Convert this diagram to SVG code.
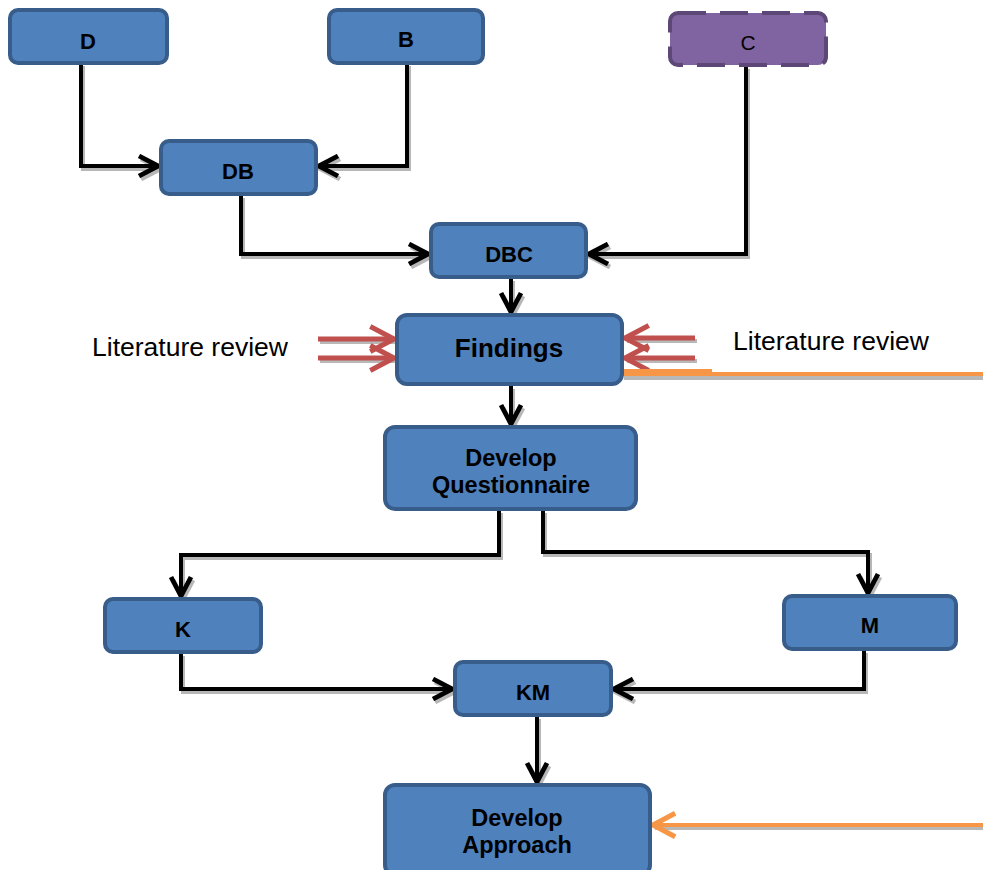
<svg xmlns="http://www.w3.org/2000/svg" width="983" height="870" viewBox="0 0 983 870">
  <style>
    .box { fill: #4f81bd; stroke: #385d8a; stroke-width: 4; }
    .boxC { fill: #8064a2; stroke: #5c4776; stroke-width: 4; stroke-dasharray: 28 14; }
    .lbl { font-family: "Liberation Sans", Arial, sans-serif; font-weight: bold; font-size: 22px; fill: #000; text-anchor: middle; }
    .lbl2 { font-family: "Liberation Sans", Arial, sans-serif; font-weight: bold; font-size: 23.5px; fill: #000; text-anchor: middle; }
    .big { font-family: "Liberation Sans", Arial, sans-serif; font-weight: bold; font-size: 26px; fill: #000; text-anchor: middle; }
    .note { font-family: "Liberation Sans", Arial, sans-serif; font-size: 26.5px; fill: #000; }
    .wire { fill: none; stroke: #000; stroke-width: 4; }
    .shade { fill: none; stroke: #a6a6a6; stroke-width: 4; opacity: 0.8; }
    .lit { fill: none; stroke: #c0504d; stroke-width: 5; }
    .org { fill: none; stroke: #f79646; stroke-width: 4; }
  </style>
  <defs>
    <marker id="head" viewBox="0 0 12 12" refX="10.5" refY="6" markerWidth="6" markerHeight="6" markerUnits="strokeWidth" orient="auto">
      <path d="M1,1 L10.5,6 L1,11" fill="none" stroke="#000" stroke-width="2.4"/>
    </marker>
    <marker id="headS" viewBox="0 0 12 12" refX="10.5" refY="6" markerWidth="6" markerHeight="6" markerUnits="strokeWidth" orient="auto">
      <path d="M1,1 L10.5,6 L1,11" fill="none" stroke="#a6a6a6" stroke-width="2.4"/>
    </marker>
    <marker id="redHead" viewBox="0 0 12 12" refX="10.5" refY="6" markerWidth="6" markerHeight="6" markerUnits="strokeWidth" orient="auto">
      <path d="M1,1 L10.5,6 L1,11" fill="none" stroke="#c0504d" stroke-width="2"/>
    </marker>
    <marker id="orgHead" viewBox="0 0 12 12" refX="10.5" refY="6" markerWidth="7" markerHeight="7" markerUnits="strokeWidth" orient="auto">
      <path d="M1,1 L10.5,6 L1,11" fill="none" stroke="#f79646" stroke-width="2.2"/>
    </marker>
  </defs>

  <!-- connectors -->
  <g id="connectors">
    <g transform="translate(2,3)">
      <path class="shade" d="M81,63 V166 H158" marker-end="url(#headS)"/>
      <path class="shade" d="M407,63 V166 H319" marker-end="url(#headS)"/>
      <path class="shade" d="M241,195 V254 H428" marker-end="url(#headS)"/>
      <path class="shade" d="M746,66 V254 H589" marker-end="url(#headS)"/>
      <path class="shade" d="M511,278 V312" marker-end="url(#headS)"/>
      <path class="shade" d="M511,386 V424" marker-end="url(#headS)"/>
      <path class="shade" d="M499,510 V555 H181 V596" marker-end="url(#headS)"/>
      <path class="shade" d="M543,510 V552 H868 V593" marker-end="url(#headS)"/>
      <path class="shade" d="M181,653 V689 H452" marker-end="url(#headS)"/>
      <path class="shade" d="M864,650 V689 H614" marker-end="url(#headS)"/>
      <path class="shade" d="M537,716 V782" marker-end="url(#headS)"/>
      <path class="shade" d="M318,339 H394 M318,358 H394 M695,338 H625 M695,358 H625"/>
      <path class="shade" d="M622,373 H712 M622,375 H983 M983,825 H653"/>
    </g>
    <path class="wire" d="M81,63 V166 H158" marker-end="url(#head)"/>
    <path class="wire" d="M407,63 V166 H319" marker-end="url(#head)"/>
    <path class="wire" d="M241,195 V254 H428" marker-end="url(#head)"/>
    <path class="wire" d="M746,66 V254 H589" marker-end="url(#head)"/>
    <path class="wire" d="M511,278 V312" marker-end="url(#head)"/>
    <path class="wire" d="M511,386 V424" marker-end="url(#head)"/>
    <path class="wire" d="M499,510 V555 H181 V596" marker-end="url(#head)"/>
    <path class="wire" d="M543,510 V552 H868 V593" marker-end="url(#head)"/>
    <path class="wire" d="M181,653 V689 H452" marker-end="url(#head)"/>
    <path class="wire" d="M864,650 V689 H614" marker-end="url(#head)"/>
    <path class="wire" d="M537,716 V782" marker-end="url(#head)"/>

    <!-- literature review inputs -->
    <path class="lit" d="M318,339 H394" marker-end="url(#redHead)"/>
    <path class="lit" d="M318,358 H394" marker-end="url(#redHead)"/>
    <path class="lit" d="M695,338 H625" marker-end="url(#redHead)"/>
    <path class="lit" d="M695,358 H625" marker-end="url(#redHead)"/>

    <!-- orange lines -->
    <path class="org" d="M622,371 H712"/>
    <path class="org" d="M622,374 H983"/>
    <path class="org" d="M983,825 H653" marker-end="url(#orgHead)"/>
  </g>

  <g id="node-D">
    <rect class="box" x="10" y="10" width="157" height="53" rx="8"/>
    <text class="lbl" x="88" y="49">D</text>
  </g>
  <g id="node-B">
    <rect class="box" x="329" y="10" width="154" height="53" rx="8"/>
    <text class="lbl" x="406" y="47">B</text>
  </g>
  <g id="node-C">
    <rect class="boxC" x="670" y="13" width="156" height="52" rx="8"/>
    <text x="748" y="50" font-family="Liberation Sans, Arial, sans-serif" font-size="21" text-anchor="middle" fill="#000">C</text>
  </g>
  <g id="node-DB">
    <rect class="box" x="161" y="141" width="155" height="53" rx="8"/>
    <text class="lbl" x="238" y="179">DB</text>
  </g>
  <g id="node-DBC">
    <rect class="box" x="431" y="224" width="155" height="53" rx="8"/>
    <text class="lbl" x="509" y="262">DBC</text>
  </g>
  <g id="node-Findings">
    <rect class="box" x="397" y="315" width="225" height="69" rx="10"/>
    <text class="big" x="509" y="357">Findings</text>
  </g>
  <g id="node-Questionnaire">
    <rect class="box" x="385" y="427" width="251" height="82" rx="10"/>
    <text class="lbl2" x="511" y="466">Develop</text>
    <text class="lbl2" x="511" y="493">Questionnaire</text>
  </g>
  <g id="node-K">
    <rect class="box" x="105" y="599" width="156" height="53" rx="8"/>
    <text class="lbl" x="183" y="637">K</text>
  </g>
  <g id="node-M">
    <rect class="box" x="784" y="596" width="172" height="53" rx="8"/>
    <text class="lbl" x="870" y="633">M</text>
  </g>
  <g id="node-KM">
    <rect class="box" x="455" y="662" width="156" height="53" rx="8"/>
    <text class="lbl" x="533" y="700">KM</text>
  </g>
  <g id="node-Approach">
    <rect class="box" x="385" y="785" width="265" height="90" rx="10"/>
    <text class="lbl2" x="517" y="826">Develop</text>
    <text class="lbl2" x="517" y="853">Approach</text>
  </g>

  <text class="note" x="92" y="356">Literature review</text>
  <text class="note" x="733" y="350">Literature review</text>
</svg>
